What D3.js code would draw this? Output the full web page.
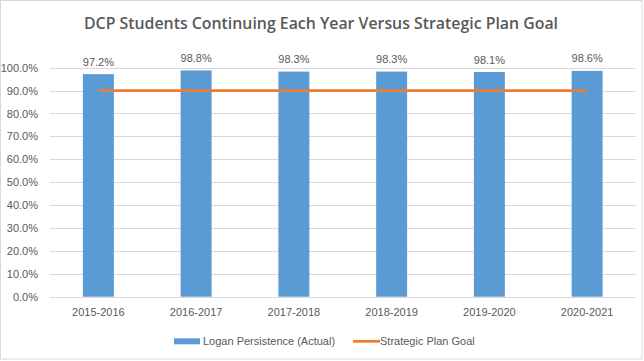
<!DOCTYPE html>
<html>
<head>
<meta charset="utf-8">
<script src="https://cdn.jsdelivr.net/npm/d3@7"></script>
<style>
  body { margin: 0; background: #fff; }
  text { font-family: "Liberation Sans", Arial, sans-serif; fill: #595959; }
</style>
</head>
<body>
<div id="chart"></div>
<script>
const categories = ["2015-2016", "2016-2017", "2017-2018", "2018-2019", "2019-2020", "2020-2021"];
const actual = [97.2, 98.8, 98.3, 98.3, 98.1, 98.6];
const goal = [90, 90, 90, 90, 90, 90];
const yTicks = [0, 10, 20, 30, 40, 50, 60, 70, 80, 90, 100];
const seriesNames = ["Logan Persistence (Actual)", "Strategic Plan Goal"];
const title = "DCP Students Continuing Each Year Versus Strategic Plan Goal";

const width = 644, height = 361;
const margin = { top: 67.7, right: 8, bottom: 64.3, left: 49.5 };
const blue = "#5B9BD5", orange = "#ED7D31";
const fs = 11;

const svg = d3.select("#chart").append("svg").attr("width", width).attr("height", height);

svg.append("rect").attr("x", 0.5).attr("y", 0.5).attr("width", 641.5).attr("height", 358.5)
  .attr("fill", "#fff").attr("stroke", "#d9d9d9");

svg.append("text").attr("x", 321).attr("y", 29).attr("text-anchor", "middle")
  .attr("font-size", 17).attr("font-weight", 600).style("font-family", "'Open Sans', sans-serif")
  .attr("textLength", 474).attr("lengthAdjust", "spacingAndGlyphs")
  .text(title);

const x = d3.scaleBand().domain(categories)
  .range([margin.left, width - margin.right])
  .paddingInner(0.683).paddingOuter(0.3415);
const y = d3.scaleLinear().domain([0, 100]).range([height - margin.bottom, margin.top]);

const g = svg.append("g");

g.selectAll("line.grid").data(yTicks).join("line").attr("class", "grid")
  .attr("x1", margin.left).attr("x2", width - margin.right)
  .attr("y1", d => Math.round(y(d)) + 0.5).attr("y2", d => Math.round(y(d)) + 0.5)
  .attr("stroke", "#d9d9d9").attr("stroke-width", 1);

const yAxis = d3.axisLeft(y).tickValues(yTicks).tickFormat(d => d.toFixed(1) + "%").tickSize(0).tickPadding(0);
const ya = svg.append("g").attr("transform", `translate(38,0)`).call(yAxis);
ya.select(".domain").remove();
ya.selectAll("text").attr("font-size", fs).attr("fill", "#595959").style("font-family", "Liberation Sans, Arial, sans-serif");

g.selectAll("rect.bar").data(actual).join("rect").attr("class", "bar")
  .attr("x", (d, i) => x(categories[i])).attr("width", x.bandwidth())
  .attr("y", d => y(d)).attr("height", d => y(0) - y(d))
  .attr("fill", blue);

g.selectAll("text.lbl").data(actual).join("text").attr("class", "lbl")
  .attr("x", (d, i) => x(categories[i]) + x.bandwidth() / 2)
  .attr("y", d => y(d) - 8.5).attr("text-anchor", "middle")
  .attr("font-size", fs).attr("fill", "#404040")
  .text(d => d.toFixed(1) + "%");

const line = d3.line().x((d, i) => x(categories[i]) + x.bandwidth() / 2).y(d => y(d));
g.append("path").datum(goal).attr("d", line).attr("fill", "none")
  .attr("stroke", orange).attr("stroke-width", 2.75);

const xAxis = d3.axisBottom(x).tickSize(0).tickPadding(0);
const xa = svg.append("g").attr("transform", `translate(0,${y(0) + 19})`).call(xAxis);
xa.select(".domain").remove();
xa.selectAll("text").attr("font-size", fs).attr("fill", "#595959").attr("dy", 0)
  .style("font-family", "Liberation Sans, Arial, sans-serif");

// legend
const lg = svg.append("g");
lg.append("rect").attr("x", 174).attr("y", 338.3).attr("width", 26).attr("height", 6).attr("fill", blue);
lg.append("text").attr("x", 203).attr("y", 345.3).attr("font-size", fs).text(seriesNames[0]);
lg.append("line").attr("x1", 353).attr("x2", 380).attr("y1", 341.3).attr("y2", 341.3)
  .attr("stroke", orange).attr("stroke-width", 2.75);
lg.append("text").attr("x", 380).attr("y", 345.3).attr("font-size", fs).text(seriesNames[1]);
</script>
</body>
</html>
